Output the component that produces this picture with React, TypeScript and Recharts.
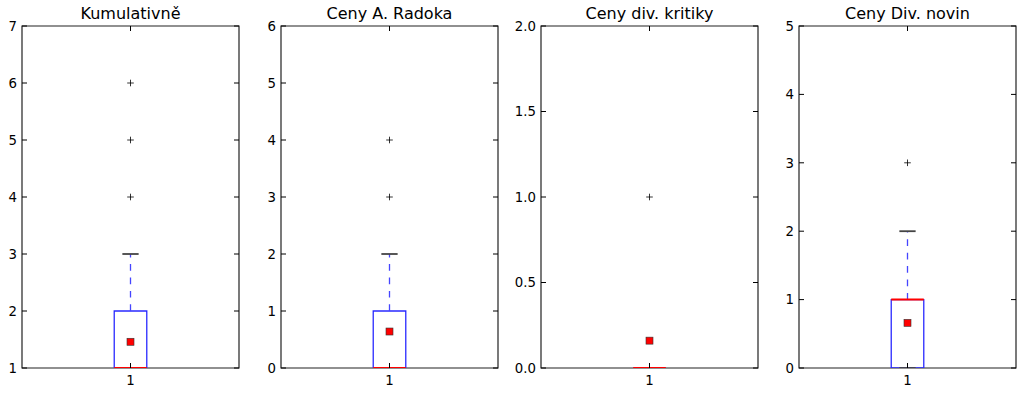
import {
  ComposedChart,
  XAxis,
  YAxis,
  Scatter,
  Line,
  ReferenceArea,
} from 'recharts';

// one entry per panel
const titles = ['Kumulativně', 'Ceny A. Radoka', 'Ceny div. kritiky', 'Ceny Div. novin'];
const categories = [1];
const q1 = [1, 0, 0, 0];
const q3 = [2, 1, 0, 1];
const medians = [1, 0, 0, 1];
const whiskerLow = [1, 0, 0, 0];
const whiskerHigh = [3, 2, 0, 2];
const means = [1.46, 0.64, 0.16, 0.66];
const fliers = [[4, 5, 6], [3, 4], [1], [3]];
const yTicks = [
  [1, 2, 3, 4, 5, 6, 7],
  [0, 1, 2, 3, 4, 5, 6],
  [0, 0.5, 1, 1.5, 2],
  [0, 1, 2, 3, 4, 5],
];
const tickDecimals = [0, 0, 1, 0];

const PLOT_LEFTS = [22, 281, 541, 799];
const PLOT_W = 217;
const PLOT_TOP = 26;
const PLOT_BOTTOM = 368;
const AXIS_W = 36;
const CHART_H = 395;
const FONT = '"DejaVu Sans", sans-serif';
const BOX_HALF = 0.075;
const CAP_HALF = 0.0375;
const BLUE = '#2a2aff';

const makeYTick = (decimals: number) => (props: any) => {
  const { x, y, payload } = props;
  return (
    <g>
      <line x1={x} x2={x + 5} y1={y} y2={y} stroke="#000" />
      <line x1={x + PLOT_W} x2={x + PLOT_W - 5} y1={y} y2={y} stroke="#000" />
      <text x={x - 5} y={y} dy="0.36em" textAnchor="end" fontSize={13.3} fontFamily={FONT} fill="#000">
        {Number(payload.value).toFixed(decimals)}
      </text>
    </g>
  );
};

const XTick = (props: any) => {
  const { x, payload } = props;
  return (
    <g>
      <line x1={x} x2={x} y1={PLOT_BOTTOM} y2={PLOT_BOTTOM - 5} stroke="#000" />
      <line x1={x} x2={x} y1={PLOT_TOP} y2={PLOT_TOP + 5} stroke="#000" />
      <text x={x} y={PLOT_BOTTOM + 17} textAnchor="middle" fontSize={13.3} fontFamily={FONT} fill="#000">
        {payload.value}
      </text>
    </g>
  );
};

const Plus = (props: any) => {
  const { cx, cy } = props;
  return (
    <g>
      <line x1={cx - 3.3} x2={cx + 3.3} y1={cy} y2={cy} stroke="#000" strokeWidth={0.8} />
      <line x1={cx} x2={cx} y1={cy - 3.3} y2={cy + 3.3} stroke="#000" strokeWidth={0.8} />
    </g>
  );
};

const MeanSquare = (props: any) => {
  const { cx, cy } = props;
  return <rect x={cx - 3.5} y={cy - 3.5} width={7} height={7} fill="#ff0000" stroke="#333" strokeWidth={0.6} />;
};

function BoxPanel({ i }: { i: number }) {
  const ticks = yTicks[i];
  const yMin = ticks[0];
  const yMax = ticks[ticks.length - 1];
  const pos = categories[0];
  const flierData = fliers[i].map((v) => ({ x: pos, y: v }));
  const meanData = [{ x: pos, y: means[i] }];
  const boxData = [
    { x: pos - BOX_HALF, y: q1[i] },
    { x: pos - BOX_HALF, y: q3[i] },
    { x: pos + BOX_HALF, y: q3[i] },
    { x: pos + BOX_HALF, y: q1[i] },
    { x: pos - BOX_HALF, y: q1[i] },
  ];
  const upperWhisker = [{ x: pos, y: q3[i] }, { x: pos, y: whiskerHigh[i] }];
  const lowerWhisker = [{ x: pos, y: q1[i] }, { x: pos, y: whiskerLow[i] }];
  const upperCap = [{ x: pos - CAP_HALF, y: whiskerHigh[i] }, { x: pos + CAP_HALF, y: whiskerHigh[i] }];
  const lowerCap = [{ x: pos - CAP_HALF, y: whiskerLow[i] }, { x: pos + CAP_HALF, y: whiskerLow[i] }];
  const medianData = [{ x: pos - BOX_HALF, y: medians[i] }, { x: pos + BOX_HALF, y: medians[i] }];

  return (
    <div style={{ position: 'absolute', left: PLOT_LEFTS[i] - AXIS_W, top: 0 }}>
      <div
        style={{
          position: 'absolute',
          left: AXIS_W,
          width: PLOT_W,
          top: 6,
          textAlign: 'center',
          fontFamily: FONT,
          fontSize: 16,
          lineHeight: '16px',
          color: '#000',
          whiteSpace: 'nowrap',
        }}
      >
        {titles[i]}
      </div>
      <ComposedChart
        width={AXIS_W + PLOT_W + 6}
        height={CHART_H}
        margin={{ top: PLOT_TOP, right: 6, bottom: 0, left: 0 }}
      >
        <XAxis
          type="number"
          dataKey="x"
          domain={[0.5, 1.5]}
          ticks={categories}
          height={CHART_H - PLOT_BOTTOM}
          tickSize={0}
          tickMargin={0}
          axisLine={false}
          tickLine={false}
          tick={<XTick />}
          interval={0}
          allowDataOverflow
        />
        <YAxis
          type="number"
          dataKey="y"
          domain={[yMin, yMax]}
          ticks={ticks}
          width={AXIS_W}
          tickSize={0}
          tickMargin={0}
          axisLine={false}
          tickLine={false}
          tick={makeYTick(tickDecimals[i])}
          interval={0}
          allowDataOverflow
        />
        <ReferenceArea
          x1={0.5}
          x2={1.5}
          y1={yMin}
          y2={yMax}
          fill="none"
          fillOpacity={0}
          stroke="#222"
          strokeWidth={1.2}
          ifOverflow="visible"
        />
        <Line data={boxData} dataKey="y" stroke={BLUE} strokeWidth={1.3} dot={false} activeDot={false} isAnimationActive={false} />
        <Line data={upperWhisker} dataKey="y" stroke="#4545ff" strokeWidth={1.3} strokeDasharray="6.7 6.7" dot={false} activeDot={false} isAnimationActive={false} />
        <Line data={lowerWhisker} dataKey="y" stroke="#4545ff" strokeWidth={1.3} strokeDasharray="6.7 6.7" dot={false} activeDot={false} isAnimationActive={false} />
        <Line data={upperCap} dataKey="y" stroke="#444" strokeWidth={1.8} dot={false} activeDot={false} isAnimationActive={false} />
        <Line data={lowerCap} dataKey="y" stroke="#444" strokeWidth={1.8} dot={false} activeDot={false} isAnimationActive={false} />
        <Line data={medianData} dataKey="y" stroke="#ff0000" strokeWidth={2} dot={false} activeDot={false} isAnimationActive={false} />
        <Scatter data={flierData} shape={<Plus />} isAnimationActive={false} />
        <Scatter data={meanData} shape={<MeanSquare />} isAnimationActive={false} />
      </ComposedChart>
    </div>
  );
}

export default function App() {
  return (
    <div style={{ position: 'absolute', left: 0, top: 0, width: 1024, height: 395, background: '#fff' }}>
      {titles.map((_, i) => (
        <BoxPanel key={i} i={i} />
      ))}
    </div>
  );
}
